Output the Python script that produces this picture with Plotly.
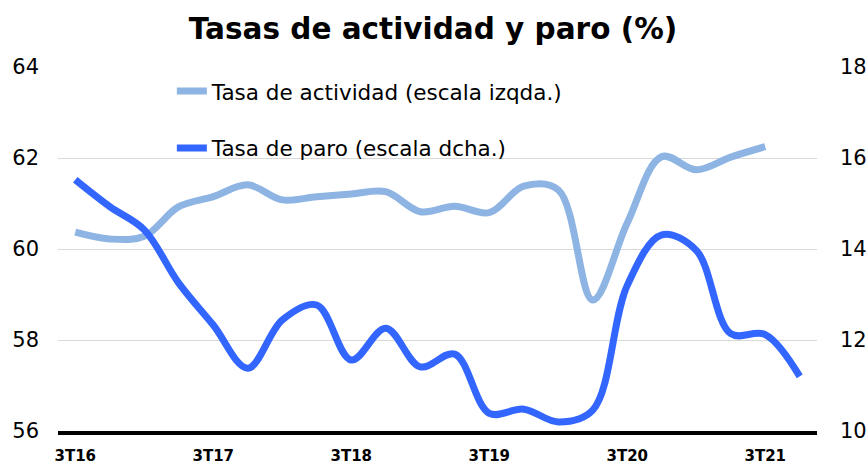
import plotly.graph_objects as go

categories = ["3T16", "4T16", "1T17", "2T17", "3T17", "4T17", "1T18", "2T18",
              "3T18", "4T18", "1T19", "2T19", "3T19", "4T19", "1T20", "2T20",
              "3T20", "4T20", "1T21", "2T21", "3T21", "4T21"]
tick_labels = ["3T16", "3T17", "3T18", "3T19", "3T20", "3T21"]

tasa_actividad = [60.37, 60.22, 60.28, 60.93, 61.15, 61.41, 61.08, 61.15, 61.21,
                  61.26, 60.82, 60.94, 60.80, 61.38, 61.30, 58.88, 60.57, 62.03,
                  61.74, 62.02, 62.25]
tasa_paro = [15.52, 14.93, 14.42, 13.25, 12.33, 11.38, 12.44, 12.77, 11.56, 12.26,
             11.41, 11.69, 10.39, 10.48, 10.20, 10.46, 13.20, 14.31, 13.97, 12.14,
             12.12, 11.20]

FONT = "DejaVu Sans"
W, H = 866, 464

fig = go.Figure()
fig.add_trace(go.Scatter(
    x=categories[:len(tasa_actividad)], y=tasa_actividad,
    name="Tasa de actividad (escala izqda.)", mode="lines",
    line=dict(color="#8EB4E3", width=7, shape="spline", smoothing=1.0),
    legendgroup="a", yaxis="y"))
fig.add_trace(go.Scatter(
    x=categories, y=tasa_paro,
    name="Tasa de paro (escala dcha.)", mode="lines",
    line=dict(color="#3366FF", width=7, shape="spline", smoothing=1.0),
    legendgroup="b", yaxis="y2"))

fig.update_layout(
    width=W, height=H,
    margin=dict(l=58, r=49, t=67, b=33, autoexpand=False),
    paper_bgcolor="white", plot_bgcolor="white",
    font=dict(family=FONT, color="#000000"),
    title=dict(text="<b>Tasas de actividad y paro (%)</b>", x=0.5, xanchor="center",
               y=1 - 29 / H, yanchor="middle", yref="container", automargin=False,
               font=dict(size=29.5, family=FONT, color="#000000")),
    showlegend=True,
    legend=dict(x=0.150, y=0.99, xanchor="left", yanchor="top",
                bgcolor="rgba(0,0,0,0)", font=dict(size=21.5, family=FONT),
                tracegroupgap=26, traceorder="grouped"),
    xaxis=dict(type="category", categoryorder="array", categoryarray=categories,
               range=[-0.5, len(categories) - 0.5], automargin=False,
               tickvals=tick_labels, ticktext=["<b>%s</b>" % t for t in tick_labels],
               tickfont=dict(size=15, family=FONT), ticks="",
               showgrid=False, showline=True, linecolor="#000000", linewidth=4,
               ticklabelstandoff=8),
    yaxis=dict(range=[56, 64], dtick=2, tickfont=dict(size=21, family=FONT),
               showgrid=True, gridcolor="#D9D9D9", gridwidth=1, zeroline=False,
               automargin=False,
               showline=False, ticks="", ticklabelstandoff=18),
    yaxis2=dict(range=[10, 18], dtick=2, overlaying="y", side="right",
                tickfont=dict(size=21, family=FONT), showgrid=False, zeroline=False,
                automargin=False,
                showline=False, ticks="", ticklabelstandoff=22),
)

fig.write_html("out.html",
               config={"displayModeBar": False},
               post_script="document.body.style.margin='0px';"
                           "document.body.style.overflow='hidden';")
